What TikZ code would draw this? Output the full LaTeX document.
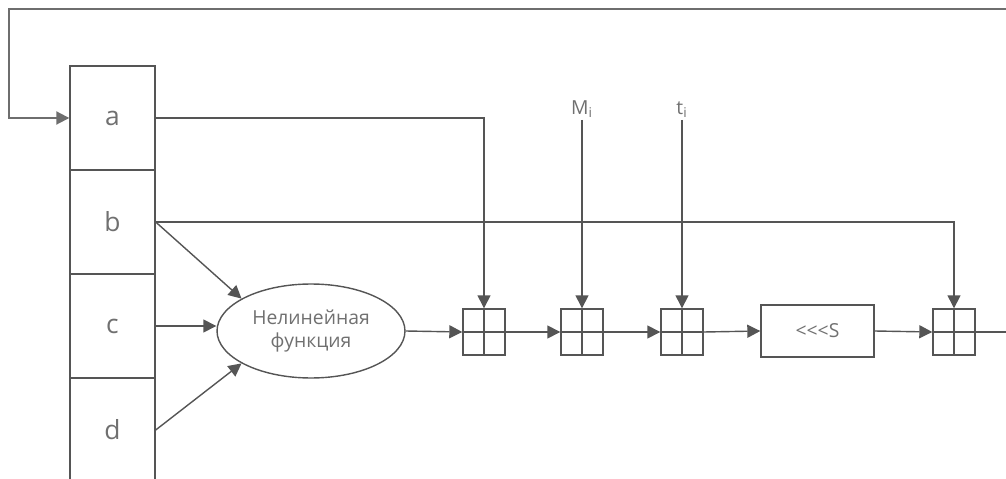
\documentclass[tikz,border=0pt]{standalone}
\usepackage{fontspec}
\setmainfont{Open Sans}
\usetikzlibrary{arrows.meta,shapes.geometric}
\definecolor{linec}{HTML}{555555}
\definecolor{textc}{HTML}{707070}
\begin{document}
\begin{tikzpicture}[x=0.02cm,y=-0.02cm,
  ln/.style={draw=linec,line width=0.8pt},
  arr/.style={ln,-{Triangle[length=0.26cm,width=0.26cm]}},
  reg/.style={draw=linec,line width=0.8pt,minimum width=1.7cm,minimum height=2.08cm,inner sep=0pt,font=\fontsize{15}{15}\selectfont,text=textc},
  adder/.style={draw=linec,line width=0.8pt,minimum width=0.84cm,minimum height=0.92cm,inner sep=0pt,
    path picture={\draw[linec,line width=0.8pt] (path picture bounding box.north) -- (path picture bounding box.south);
                  \draw[linec,line width=0.8pt] (path picture bounding box.west) -- (path picture bounding box.east);}},
  lbl/.style={font=\fontsize{11}{11}\selectfont,text=textc,inner sep=1pt}]
\useasboundingbox (0,0) rectangle (1006,479);
\node[reg] (a) at (112.5,118) {a};
\node[reg] (b) at (112.5,222) {b};
\node[reg] (c) at (112.5,326) {c};
\node[reg] (d) at (112.5,430) {d};
\node[ellipse,draw=linec,line width=0.8pt,minimum width=3.76cm,minimum height=1.88cm,inner sep=0pt,align=center,
  font=\fontsize{11}{13}\selectfont,text=textc] (f) at (311,331) {Нелинейная\\функция};
\node[adder] (s1) at (484,332) {};
\node[adder] (s2) at (582,332) {};
\node[adder] (s3) at (682,332) {};
\node[draw=linec,line width=0.8pt,minimum width=2.26cm,minimum height=1.04cm,inner sep=0pt,
  font=\fontsize{11}{11}\selectfont,text=textc] (rot) at (817.5,331) {<{}<{}<S};
\node[adder] (s5) at (954,332) {};
\node[lbl,anchor=south] (m) at (582,120) {M\textsubscript{i}};
\node[lbl,anchor=south] (t) at (682,120) {t\textsubscript{i}};
\coordinate (fbR) at (1006,9);
\coordinate (fbL) at (9,9);
\coordinate (out) at (1006,332);
% feedback
\draw[arr,draw=linec!85,line width=1.1pt] (fbR) -- (fbL) |- (a.west);
% register outputs
\draw[arr] (a.east) -| (s1.north);
\draw[arr] (b.east) -| (s5.north);
\draw[arr] (b.east) -- (f.155);
\draw[arr] (c.east) -- (c.east -| f.west);
\draw[arr] (d.east) -- (f.205);
% chain
\draw[arr] (f.east) -- (s1.west);
\draw[arr] (s1.east) -- (s2.west);
\draw[arr] (s2.east) -- (s3.west);
\draw[arr] (s3.east) -- (rot.west);
\draw[arr] (rot.east) -- (s5.west);
\draw[ln] (s5.east) -- (out);
% inputs
\draw[arr] (m.south) -- (s2.north);
\draw[arr] (t.south) -- (s3.north);
\end{tikzpicture}
\end{document}
